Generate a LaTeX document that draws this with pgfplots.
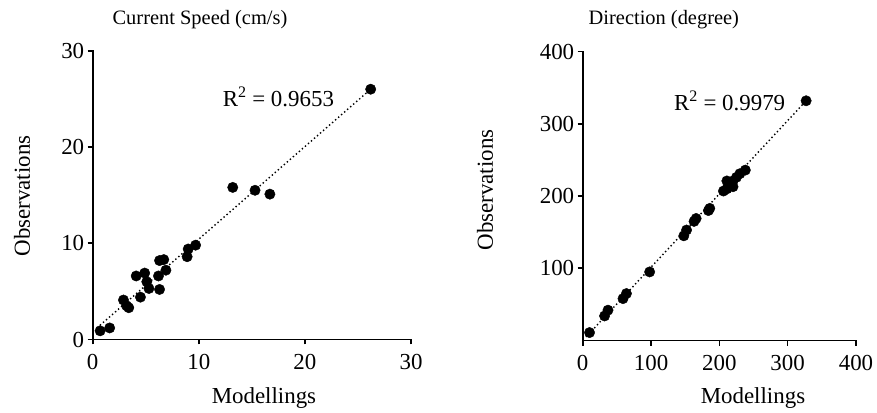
\documentclass[border=0pt]{standalone}
\usepackage{fontspec}
\setmainfont{Liberation Serif}
\usepackage{pgfplots}
\pgfplotsset{compat=1.18}

\pgfplotsset{
  scatterstyle/.style={
    scale only axis,
    axis lines*=left,
    axis line style={line width=1.6bp, line cap=rect},
    tick align=outside,
    major tick length=5bp,
    every tick/.style={line width=1.6bp, black},
    tick label style={font=\fontsize{23}{26}\selectfont},
    xticklabel style={yshift=-6bp},
    /pgf/number format/assume math mode=true,
    label style={font=\fontsize{23}{26}\selectfont},
    title style={font=\fontsize{20.5}{24}\selectfont, anchor=center, yshift=-2bp},
    every axis title shift=0pt,
    xlabel style={anchor=center},
    ylabel style={anchor=center, rotate=0},
    clip=false,
  },
  dots/.style={only marks, mark=*, mark size=5.2bp, black},
  fit/.style={black, line width=1.4bp, dash pattern=on 1.4bp off 2.6bp, no marks},
}

\begin{document}
\begin{tikzpicture}
\useasboundingbox (0,0) rectangle (877bp,413bp);

% left: current speed
\begin{axis}[scatterstyle,
  at={(92.7bp,73.5bp)}, anchor=south west,
  width=318.3bp, height=288.8bp,
  xmin=0, xmax=30, ymin=0, ymax=30,
  xtick={0,10,20,30}, ytick={0,10,20,30},
  title={Current Speed (cm/s)},
  title style={at={(0.337,1.113)}},
  xlabel={Modellings},
  xlabel style={at={(0.538,-0.203)}},
  ylabel={Observations},
  ylabel style={at={(-0.222,0.497)}},
]
\addplot[fit] coordinates {(0.4,1.2) (26.2,26.0)};
\addplot[dots] coordinates {
(26.2,26.0) (13.2,15.8) (15.3,15.5) (16.7,15.1)
(9.7,9.8) (9.0,9.4) (8.9,8.6) (6.7,8.3) (6.3,8.2)
(6.9,7.2) (6.2,6.6) (4.9,6.9) (4.1,6.6) (5.1,6.0)
(5.3,5.3) (6.3,5.2) (4.5,4.4) (2.9,4.1) (3.2,3.5)
(3.4,3.3) (0.7,0.9) (1.6,1.2)
};
\node[font=\fontsize{23}{26}\selectfont, anchor=center] at (axis cs:17.5,25.2) {R\textsuperscript{2} = 0.9653};
\end{axis}

% right: direction
\begin{axis}[scatterstyle,
  at={(582.7bp,72.5bp)}, anchor=south west,
  width=273.3bp, height=288.8bp,
  xmin=0, xmax=400, ymin=0, ymax=400,
  xtick={0,100,200,300,400}, ytick={100,200,300,400},
  title={Direction (degree)},
  title style={at={(0.297,1.117)}},
  xlabel={Modellings},
  xlabel style={at={(0.623,-0.199)}},
  ylabel={Observations},
  ylabel style={at={(-0.357,0.521)}},
]
\addplot[fit] coordinates {(5,5) (327,332)};
\addplot[dots] coordinates {
(327,332) (238,236) (230,231) (225,226) (220,221) (211,221)
(220,213) (211,210) (206,207) (186,183) (184,180)
(166,169) (163,165) (152,153) (148,145) (98,95)
(64,65) (59,58) (37,42) (32,34) (10,11)
};
\node[font=\fontsize{23}{26}\selectfont, anchor=center] at (axis cs:215,332) {R\textsuperscript{2} = 0.9979};
\end{axis}
\end{tikzpicture}
\end{document}
